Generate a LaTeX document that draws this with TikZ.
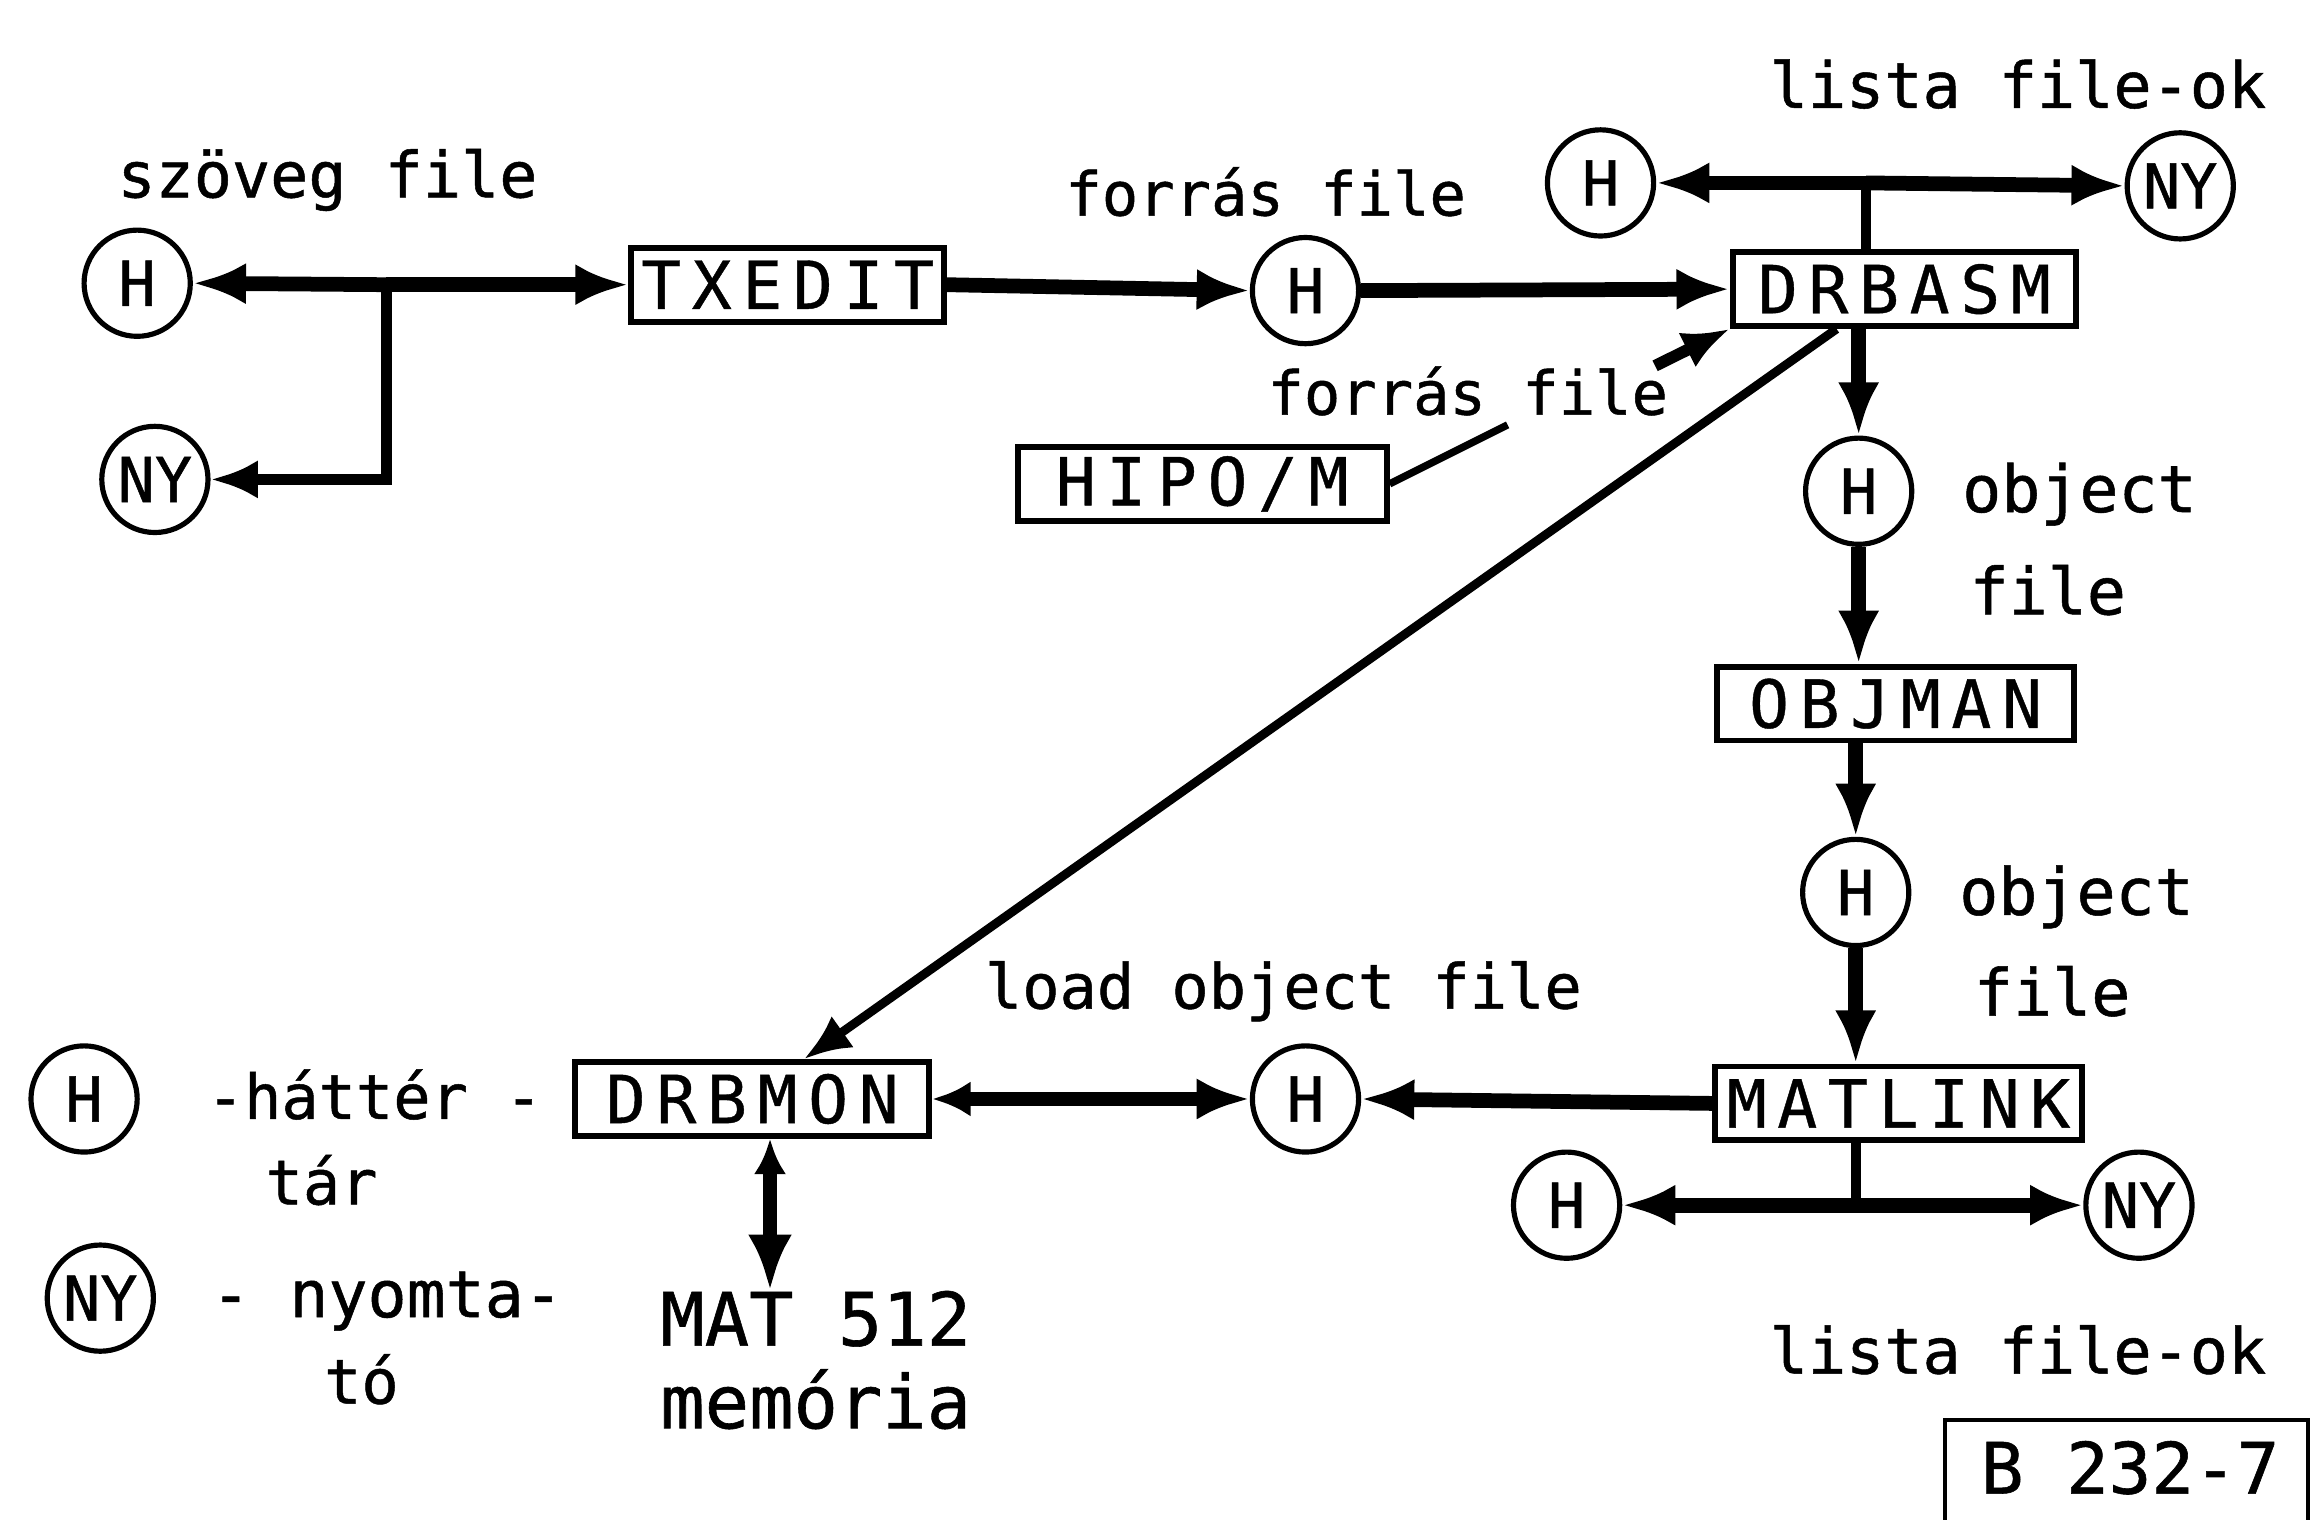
\documentclass[tikz,border=0pt]{standalone}
\usepackage{fontspec}
\setmainfont[FakeBold=0.8]{DejaVu Sans Mono}
\newfontfamily\boxfont[LetterSpace=16,FakeBold=0.6]{DejaVu Sans Mono}
\usetikzlibrary{arrows.meta}
\begin{document}
\begin{tikzpicture}[x=1pt,y=-1pt,
  every node/.style={inner sep=0pt},
  store/.style={circle,draw,line width=3.5pt,minimum size=72pt,font=\fontsize{42}{42}\selectfont},
  prog/.style={draw,line width=4pt,minimum height=50pt,font=\boxfont\fontsize{45}{45}\selectfont},
  lbl/.style={font=\fontsize{43}{58}\selectfont,align=center},
  flow/.style={line width=10pt,-{Latex[length=36pt,width=28pt]}},
  thin flow/.style={line width=6pt,-{Latex[length=32pt,width=26pt]}},
  stem/.style={line width=7pt}
]
\useasboundingbox (0,0) rectangle (1568,1030);
% stores and programs
\node[store] (hA) at (93,192) {H};
\node[store] (nyA) at (105,325) {NY};
\node[prog,minimum width=212pt] (txedit) at (534,193) {TXEDIT};
\node[store] (hB) at (885,197) {H};
\node[prog,minimum width=233pt] (drbasm) at (1291,196) {DRBASM};
\node[store] (hTop) at (1085,124) {H};
\node[store] (nyTop) at (1478,126) {NY};
\node[prog,minimum width=250pt] (hipo) at (815,328) {HIPO/M};
\node[store] (hC) at (1260,333) {H};
\node[prog,minimum width=242pt] (objman) at (1285,477) {OBJMAN};
\node[store] (hD) at (1258,605) {H};
\node[prog,minimum width=249pt] (matlink) at (1287,748) {MATLINK};
\node[store] (hE) at (885,745) {H};
\node[prog,minimum width=240pt] (drbmon) at (510,745) {DRBMON};
\node[store] (hF) at (1062,817) {H};
\node[store] (nyF) at (1450,817) {NY};
\node[store] (legH) at (57,745) {H};
\node[store] (legNY) at (68,880) {NY};
% labels
\node[lbl] (l1) at (222,122) {szöveg file};
\node[lbl,font=\fontsize{41}{41}\selectfont] (l2) at (858,130) {forrás file};
\node[lbl] (l3) at (1368,57) {lista file-ok};
\node[lbl,font=\fontsize{41}{41}\selectfont] (l4) at (995,265) {forrás file};
\node[lbl,anchor=west,font=\fontsize{44}{44}\selectfont] (l5) at (1330,335) {object};
\node[lbl,anchor=west,font=\fontsize{44}{44}\selectfont] (l6) at (1335,400) {file};
\node[lbl,anchor=west,font=\fontsize{44}{44}\selectfont] (l7) at (1328,608) {object};
\node[lbl,anchor=west,font=\fontsize{44}{44}\selectfont] (l8) at (1338,672) {file};
\node[lbl,font=\fontsize{42}{42}\selectfont] (l9) at (870,672) {load object file};
\node[lbl] (l10) at (1368,915) {lista file-ok};
\node[lbl,font=\fontsize{50}{56}\selectfont] (mat) at (553,922) {MAT 512\\memória};
\node[lbl,anchor=west,font=\fontsize{42}{42}\selectfont] (l11) at (140,742) {-háttér -};
\node[lbl,font=\fontsize{42}{42}\selectfont] (l12) at (218,800) {tár};
\node[lbl,anchor=west,font=\fontsize{44}{44}\selectfont] (l13) at (143,882) {- nyomta-};
\node[lbl,font=\fontsize{42}{42}\selectfont] (l14) at (245,935) {tó};
\node[draw,line width=3pt,minimum width=246pt,minimum height=100pt,anchor=north west] (ref) at (1317,961) {};
\node[font=\fontsize{48}{48}\selectfont] (reftxt) at (1444,995) {B 232-7};
% connectors
\coordinate (j1) at (262,193);
\draw[flow] (j1) -- (txedit.west);
\draw[flow] (j1) -- (hA.east);
\draw[stem,-{Latex[length=32pt,width=26pt]}] (j1) |- (nyA.east);
\draw[flow] (txedit.east) -- (hB.west);
\draw[flow] (hB.east) -- (drbasm.west);
\coordinate (j2) at (1265,124);
\draw[stem] (drbasm.north -| j2) -- (j2);
\draw[flow] (j2) -- (hTop.east);
\draw[flow] (j2) -- (nyTop.west);
\coordinate (c1) at (1022,288);
\coordinate (c2) at (1122,248);
\draw[line width=5pt] (hipo.east) -- (c1);
\draw[thin flow,line width=8pt] (c2) -- (drbasm.south west);
\draw[thin flow] ([xshift=-46pt]drbasm.south) -- ([xshift=35pt]drbmon.north);
\draw[flow] (drbasm.south -| hC) -- (hC.north);
\draw[flow] (hC.south) -- (objman.north -| hC);
\draw[flow] (objman.south -| hD) -- (hD.north);
\draw[flow] (hD.south) -- (matlink.north -| hD);
\draw[flow] (matlink.west) -- (hE.east);
\draw[line width=10pt,{Latex[length=26pt,width=24pt]}-{Latex[length=36pt,width=28pt]}] (drbmon.east) -- (hE.west);
\draw[line width=10pt,{Latex[length=24pt,width=22pt]}-{Latex[length=38pt,width=30pt]}] ([xshift=12pt]drbmon.south) -- ([xshift=-31pt]mat.north);
\coordinate (j3) at (1258,817);
\draw[stem] (matlink.south -| j3) -- (j3);
\draw[flow] (j3) -- (hF.east);
\draw[flow] (j3) -- (nyF.west);
\end{tikzpicture}
\end{document}
